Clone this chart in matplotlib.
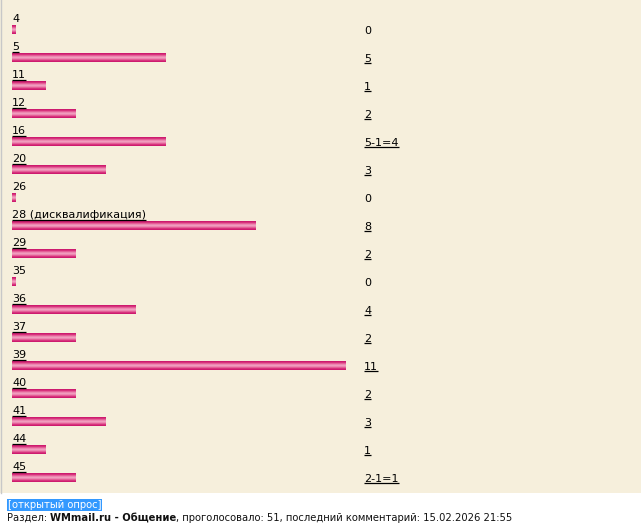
import matplotlib
matplotlib.use("Agg")
import matplotlib.pyplot as plt
import numpy as np
from matplotlib.colors import LinearSegmentedColormap
from matplotlib.patches import Rectangle

# poll data
options = ["4", "5", "11", "12", "16", "20", "26", "28 (дисквалификация)", "29", "35",
           "36", "37", "39", "40", "41", "44", "45"]
votes = [0, 5, 1, 2, 5, 3, 0, 8, 2, 0, 4, 2, 11, 2, 3, 1, 2]
shown = ["0", "5", "1", "2", "5-1=4", "3", "0", "8", "2", "0", "4", "2", "11", "2", "3", "1", "2-1=1"]

footer_tag = "[открытый опрос]"
footer_pre = "Раздел: "
footer_bold = "WMmail.ru - Общение"
footer_post = ", проголосовало: 51, последний комментарий: 15.02.2026 21:55"

W, H = 641, 526
fig = plt.figure(figsize=(W / 100, H / 100), dpi=100)
fig.patch.set_facecolor("white")
ax = fig.add_axes([0, 0, 1, 1])
ax.set_xlim(0, W)
ax.set_ylim(H, 0)
ax.axis("off")

bg = "#f6efdc"
ax.add_patch(Rectangle((0, 0), W, 493, facecolor=bg, edgecolor="none", zorder=0))
ax.plot([1, 1], [0, 493], color="#c8c8c8", lw=1, zorder=1)

grad = LinearSegmentedColormap.from_list(
    "bar", ["#c8126a", "#d8307a", "#ea7aa8", "#f2a8c6", "#ea7aa8", "#d8307a", "#c8126a"])
gimg = np.linspace(0, 1, 64).reshape(-1, 1)

x0 = 12
unit = 30
min_w = 4
pitch = 28
bar_h = 9
fs = 8.0
ffs = 7.2

underlined = []
for i, (opt, v, s) in enumerate(zip(options, votes, shown)):
    top = 25 + i * pitch
    w = min_w + v * unit
    t = ax.text(x0, top - 3, opt, fontsize=fs, color="#000000", va="baseline", ha="left",
                family="DejaVu Sans")
    rect = Rectangle((x0, top), w, bar_h, facecolor="none", edgecolor="none")
    ax.add_patch(rect)
    im = ax.imshow(gimg, cmap=grad, aspect="auto", extent=(x0, x0 + w, top + bar_h, top),
                   interpolation="bilinear", zorder=2)
    im.set_clip_path(rect)
    tv = ax.text(364, top + bar_h - 0.5, s, fontsize=fs, color="#000000", va="baseline", ha="left",
                 family="DejaVu Sans")
    if v > 0:
        underlined += [t, tv]

# footer
ax.text(8, 508, footer_tag, fontsize=ffs, color="white", va="baseline", ha="left",
        family="DejaVu Sans",
        bbox=dict(boxstyle="square,pad=0.08", facecolor="#3399ff", edgecolor="none"))
r = fig.canvas.get_renderer()
t1 = ax.text(7, 521, footer_pre, fontsize=ffs, color="#111111", va="baseline", ha="left",
             family="DejaVu Sans")
fig.canvas.draw()
bb = t1.get_window_extent(r)
t2 = ax.text(bb.x1, H - 521, footer_bold, fontsize=ffs, color="#111111", va="baseline",
             ha="left", family="DejaVu Sans", weight="bold", transform=None)
fig.canvas.draw()
bb2 = t2.get_window_extent(r)
ax.text(bb2.x1, H - 521, footer_post, fontsize=ffs, color="#111111", va="baseline", ha="left",
        family="DejaVu Sans", transform=None)

# underline the linked labels
fig.canvas.draw()
inv = ax.transData.inverted()
for t in underlined:
    bb = t.get_window_extent(r)
    xa = inv.transform((bb.x0, 0))[0]
    xb = inv.transform((bb.x1, 0))[0]
    yl = t.get_position()[1] + 1.5
    ax.plot([xa, xb], [yl, yl], color="#000000", lw=0.9, zorder=3, solid_capstyle="butt")

fig.savefig("out.png", dpi=100, facecolor="white")
